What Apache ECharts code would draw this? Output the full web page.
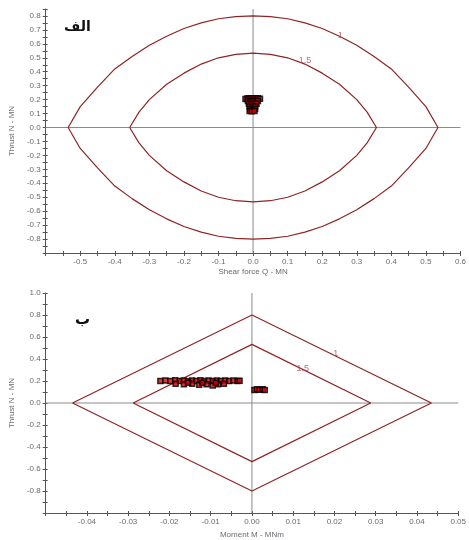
<!DOCTYPE html>
<html><head><meta charset="utf-8">
<script src="https://cdn.jsdelivr.net/npm/echarts@6/dist/echarts.min.js"></script>
<style>html,body{margin:0;padding:0;background:#fff}#c{width:469px;height:540px}</style>
</head><body><div id="c"></div>
<script>
// ---- Chart A (الف): Shear force Q vs Thrust N ----
var outerQN = [[-0.535,0],[-0.5,0.15],[-0.45,0.29],[-0.4,0.42],[-0.35,0.51],[-0.3,0.59],[-0.25,0.655],[-0.2,0.71],[-0.15,0.75],[-0.1,0.78],[-0.05,0.795],[0,0.8],[0.05,0.795],[0.1,0.78],[0.15,0.75],[0.2,0.71],[0.25,0.655],[0.3,0.59],[0.35,0.51],[0.4,0.42],[0.45,0.29],[0.5,0.15],[0.535,0],
  [0.5,-0.15],[0.45,-0.29],[0.4,-0.42],[0.35,-0.51],[0.3,-0.59],[0.25,-0.655],[0.2,-0.71],[0.15,-0.75],[0.1,-0.78],[0.05,-0.795],[0,-0.8],[-0.05,-0.795],[-0.1,-0.78],[-0.15,-0.75],[-0.2,-0.71],[-0.25,-0.655],[-0.3,-0.59],[-0.35,-0.51],[-0.4,-0.42],[-0.45,-0.29],[-0.5,-0.15],[-0.535,0]];
var innerQN = [[-0.357,0],[-0.33,0.11],[-0.3,0.2],[-0.25,0.31],[-0.2,0.39],[-0.15,0.455],[-0.1,0.5],[-0.05,0.525],[0,0.533],[0.05,0.525],[0.1,0.5],[0.15,0.455],[0.2,0.39],[0.25,0.31],[0.3,0.2],[0.33,0.11],[0.357,0],
  [0.33,-0.11],[0.3,-0.2],[0.25,-0.31],[0.2,-0.39],[0.15,-0.455],[0.1,-0.5],[0.05,-0.525],[0,-0.533],[-0.05,-0.525],[-0.1,-0.5],[-0.15,-0.455],[-0.2,-0.39],[-0.25,-0.31],[-0.3,-0.2],[-0.33,-0.11],[-0.357,0]];
var pointsQN = [[-0.022,0.205],[-0.016,0.21],[-0.01,0.208],[-0.004,0.21],[0.002,0.21],[0.008,0.208],[0.014,0.21],[0.02,0.206],[-0.015,0.19],[-0.008,0.186],[0,0.19],[0.008,0.188],[0.014,0.19],[-0.012,0.17],[-0.004,0.166],[0.004,0.168],[0.01,0.17],[-0.01,0.15],[-0.002,0.148],[0.006,0.15],[-0.008,0.132],[0,0.13],[0.006,0.132],[-0.01,0.118],[-0.004,0.116],[0.004,0.118]];
var labelsQN = [[0.252,0.66,'1'],[0.15,0.48,'1.5']];
var zeroQ = [[-0.6,0],[0.6,0]];
var zeroNa = [[0,-0.9],[0,0.85]];

// ---- Chart B (ب): Moment M vs Thrust N ----
var outerMN = [[-0.0435,0],[0,0.8],[0.0435,0],[0,-0.8],[-0.0435,0]];
var innerMN = [[-0.0288,0],[0,0.533],[0.0288,0],[0,-0.533],[-0.0288,0]];
var pointsMN = [[-0.0222,0.2],[-0.021,0.205],[-0.0198,0.2],[-0.0186,0.206],[-0.0175,0.2],[-0.0165,0.205],[-0.0155,0.198],[-0.0145,0.205],[-0.0135,0.2],[-0.0125,0.206],[-0.0115,0.2],[-0.0105,0.205],[-0.0095,0.2],[-0.0085,0.205],[-0.0075,0.2],[-0.0065,0.205],[-0.0055,0.2],[-0.0045,0.204],[-0.0035,0.2],[-0.003,0.203],
  [-0.0185,0.175],[-0.0165,0.17],[-0.0145,0.175],[-0.0128,0.165],[-0.011,0.17],[-0.0095,0.16],[-0.0082,0.17],[-0.0068,0.175],[-0.0155,0.185],[-0.012,0.185],[-0.0088,0.185]];
var points2MN = [[0.0006,0.118],[0.0012,0.124],[0.0019,0.12],[0.0026,0.124],[0.0031,0.119]];
var labelsMN = [[0.0203,0.447,'1'],[0.0123,0.318,'1.5']];
var zeroM = [[-0.05,0],[0.05,0]];
var zeroNb = [[0,-1],[0,1]];

var curveColor = '#8e2424';
var txt = '#6a6a72';
var font = 'Liberation Sans';
function axisCommon(extra){
  var o = {
    splitLine:{show:false},
    axisLine:{onZero:false,lineStyle:{color:'#555',width:1}},
    axisTick:{length:3,lineStyle:{color:'#555'}},
    minorTick:{show:true,splitNumber:2,length:3,lineStyle:{color:'#555'}},
    axisLabel:{color:txt,fontSize:8,fontFamily:font,margin:5},
    nameTextStyle:{color:txt,fontSize:8,fontFamily:font},
    nameLocation:'middle'
  };
  for (var k in extra) {
    if (typeof extra[k]==='object' && o[k] && !Array.isArray(extra[k])) { for (var j in extra[k]) o[k][j]=extra[k][j]; }
    else o[k]=extra[k];
  }
  return o;
}
function innerTicks(g,pos,min,max,interval){
  return {gridIndex:g,position:pos,type:'value',min:min,max:max,interval:interval,splitLine:{show:false},
    axisLine:{show:false,onZero:false},axisLabel:{show:false},
    axisTick:{inside:true,length:2,lineStyle:{color:'#555'}},
    minorTick:{show:true,splitNumber:2,length:2,lineStyle:{color:'#555'}}};
}
var chart = echarts.init(document.getElementById('c'),null,{renderer:'canvas'});
function lineS(data,xi,color,w){return {type:'line',xAxisIndex:xi,yAxisIndex:xi,data:data,symbol:'none',silent:true,lineStyle:{color:color,width:w},z:2};}
function labS(arr,xi){return {type:'scatter',xAxisIndex:xi,yAxisIndex:xi,symbolSize:0,silent:true,data:arr.map(function(d){return {value:[d[0],d[1]],name:d[2]};}),
  label:{show:true,position:'inside',formatter:'{b}',color:'#b0405a',fontSize:9,fontFamily:font},z:5};}
function ptS(data,xi){return {type:'scatter',xAxisIndex:xi,yAxisIndex:xi,data:data,symbol:'rect',symbolSize:5,itemStyle:{color:'#e00000',borderColor:'#000',borderWidth:1.5},z:6};}
chart.setOption({
  animation:false,
  grid:[{left:45,top:9,width:420,height:244},{left:45,top:293,width:416,height:227}],
  xAxis:[
    axisCommon({gridIndex:0,position:'bottom',type:'value',min:-0.6,max:0.6,interval:0.1,name:'Shear force Q - MN',nameGap:15,axisLabel:{showMinLabel:false,formatter:function(v){return v.toFixed(1);}}}),
    axisCommon({gridIndex:1,position:'bottom',type:'value',min:-0.05,max:0.05,interval:0.01,name:'Moment M - MNm',nameGap:18,axisLabel:{showMinLabel:false,formatter:function(v){return v.toFixed(2);}}}),
    innerTicks(0,'bottom',-0.6,0.6,0.1), innerTicks(1,'bottom',-0.05,0.05,0.01)
  ],
  yAxis:[
    axisCommon({gridIndex:0,position:'left',type:'value',min:-0.9,max:0.85,interval:0.1,name:'Thrust N - MN',nameGap:29,axisLabel:{showMinLabel:false,showMaxLabel:false,formatter:function(v){return v.toFixed(1);}}}),
    axisCommon({gridIndex:1,position:'left',type:'value',min:-1,max:1,interval:0.2,name:'Thrust N - MN',nameGap:29,axisLabel:{showMinLabel:false,formatter:function(v){return v.toFixed(1);}}}),
    innerTicks(0,'left',-0.9,0.85,0.1), innerTicks(1,'left',-1,1,0.2)
  ],
  series:[
    lineS(zeroQ,0,'#8a8a8a',1), lineS(zeroNa,0,'#8a8a8a',1),
    lineS(outerQN,0,curveColor,1.2), lineS(innerQN,0,curveColor,1.2),
    labS(labelsQN,0), ptS(pointsQN,0),
    lineS(zeroM,1,'#8a8a8a',1), lineS(zeroNb,1,'#8a8a8a',1),
    lineS(outerMN,1,curveColor,1.2), lineS(innerMN,1,curveColor,1.2),
    labS(labelsMN,1), ptS(pointsMN,1), ptS(points2MN,1)
  ],
  graphic:[
    {type:'text',left:64,top:20,style:{text:'الف',fontSize:14,fontWeight:'bold',fontFamily:'DejaVu Sans',fill:'#111'}},
    {type:'text',left:75,top:313,style:{text:'ب',fontSize:15,fontWeight:'bold',fontFamily:'DejaVu Sans',fill:'#111'}}
  ]
});
</script></body></html>
